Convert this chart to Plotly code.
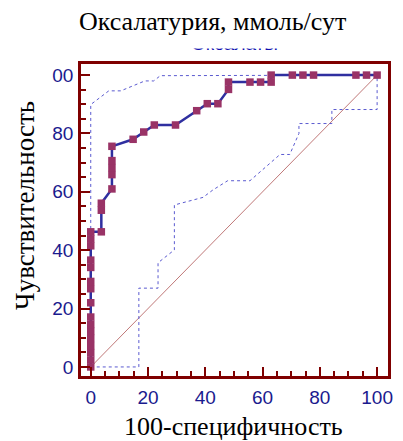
import plotly.graph_objects as go

# ROC curve points (100-specificity, sensitivity)
roc_x = [0, 0, 0, 0, 0, 0, 0, 0, 0, 0, 0, 0, 0, 0, 0, 0,
         3.7, 3.7, 3.7, 7.4, 7.4, 7.4, 7.4, 7.4, 14.8, 18.5, 22.2, 29.6,
         37.0, 40.7, 44.4, 48.1, 48.1, 55.6, 59.3, 63.0, 63.0, 70.4, 74.1,
         77.8, 92.6, 96.3, 100]
roc_y = [0, 2.4, 4.9, 7.3, 9.8, 12.2, 14.6, 17.1, 22.0, 26.8, 29.3, 34.1, 36.6, 41.5, 43.9, 46.3,
         46.3, 53.7, 56.1, 61.0, 65.9, 68.3, 70.7, 75.6, 78.0, 80.5, 82.9, 82.9,
         87.8, 90.2, 90.2, 95.1, 97.6, 97.6, 97.6, 97.6, 100, 100, 100,
         100, 100, 100, 100]

# 95% confidence bounds
upper_x = [0, 0, 6.3, 10.5, 18.9, 22.0, 24.3, 100]
upper_y = [0, 89.9, 94.6, 94.6, 98.0, 98.0, 99.8, 100]
lower_x = [0, 16.8, 16.8, 23.5, 23.5, 29.2, 29.2, 39.2, 42.6, 47.8, 55.6, 66.1, 69.5, 72.7, 72.7, 84.2, 84.2, 100, 100]
lower_y = [0, 0, 27.0, 27.0, 35.7, 40.1, 55.5, 58.1, 60.6, 63.8, 63.8, 72.8, 72.8, 80.0, 83.4, 83.4, 88.2, 88.2, 100]

diag = [0, 100]
tick_vals = [0, 20, 40, 60, 80, 100]
x_tick_text = ["0", "20", "40", "60", "80", "100"]
y_tick_text = ["0", "20", "40", "60", "80", "00"]

DARKRED = "#7f0000"
NAVY = "#1a1a8e"
SERIF = "Liberation Serif, Times New Roman, serif"
SANS = "Liberation Sans, Arial, sans-serif"

fig = go.Figure()
fig.add_trace(go.Scatter(x=diag, y=diag, mode="lines",
                         line=dict(color="#c07878", width=1), hoverinfo="skip"))
fig.add_trace(go.Scatter(x=upper_x, y=upper_y, mode="lines",
                         line=dict(color="#5a5ad0", width=1, dash="dot")))
fig.add_trace(go.Scatter(x=lower_x, y=lower_y, mode="lines",
                         line=dict(color="#5a5ad0", width=1, dash="dot")))
fig.add_trace(go.Scatter(x=roc_x, y=roc_y, mode="lines+markers",
                         line=dict(color="#2f2fa0", width=2.5),
                         marker=dict(symbol="square", size=7.5, color="#993366",
                                     line=dict(width=0))))
# clipped sub-title
fig.add_trace(go.Scatter(x=[0.5], y=[1.21], mode="text", text=["Оксалаты"],
                         textfont=dict(family=SANS, size=19, color="#1010b0"),
                         textposition="middle center", cliponaxis=True,
                         xaxis="x2", yaxis="y2"))

axis_common = dict(
    showgrid=False, zeroline=False,
    showline=True, mirror=True, linecolor=DARKRED, linewidth=2.5,
    ticks="inside", ticklen=9, tickwidth=2, tickcolor=DARKRED,
    tickvals=tick_vals,
    tickfont=dict(family=SANS, size=19, color=NAVY),
    minor=dict(ticks="inside", dtick=5, ticklen=5, tickwidth=1.5, tickcolor=DARKRED),
)

fig.update_layout(
    width=403, height=441,
    margin=dict(l=81, r=10, t=40, b=65),
    paper_bgcolor="white", plot_bgcolor="white",
    showlegend=False,
    xaxis=dict(range=[-3.4, 103.8], ticktext=x_tick_text, ticklabelstandoff=2, **axis_common),
    yaxis=dict(range=[-3.1, 103.8], ticktext=y_tick_text, domain=[0, 312 / 336],
               ticklabelstandoff=1, **axis_common),
    xaxis2=dict(domain=[0, 1], range=[0, 1], visible=False, anchor="y2"),
    yaxis2=dict(domain=[(376 - 63) / 336, (376 - 48.5) / 336], range=[0, 1],
                visible=False, anchor="x2"),
    annotations=[
        dict(text="Оксалатурия, ммоль/сут", x=(214.5 - 81) / 312, y=(376 - 22) / 336,
             xref="paper", yref="paper", showarrow=False,
             xanchor="center", yanchor="middle",
             font=dict(family=SERIF, size=26, color="black")),
        dict(text="Чувствительность", x=(24 - 81) / 312, y=(376 - 205) / 336,
             xref="paper", yref="paper", showarrow=False, textangle=-90,
             xanchor="center", yanchor="middle",
             font=dict(family=SERIF, size=27, color="black")),
        dict(text="100-специфичность", x=(236 - 81) / 312, y=(376 - 427) / 336,
             xref="paper", yref="paper", showarrow=False,
             xanchor="center", yanchor="middle",
             font=dict(family=SERIF, size=26, color="black")),
    ],
)

fig.write_html("out.html")
